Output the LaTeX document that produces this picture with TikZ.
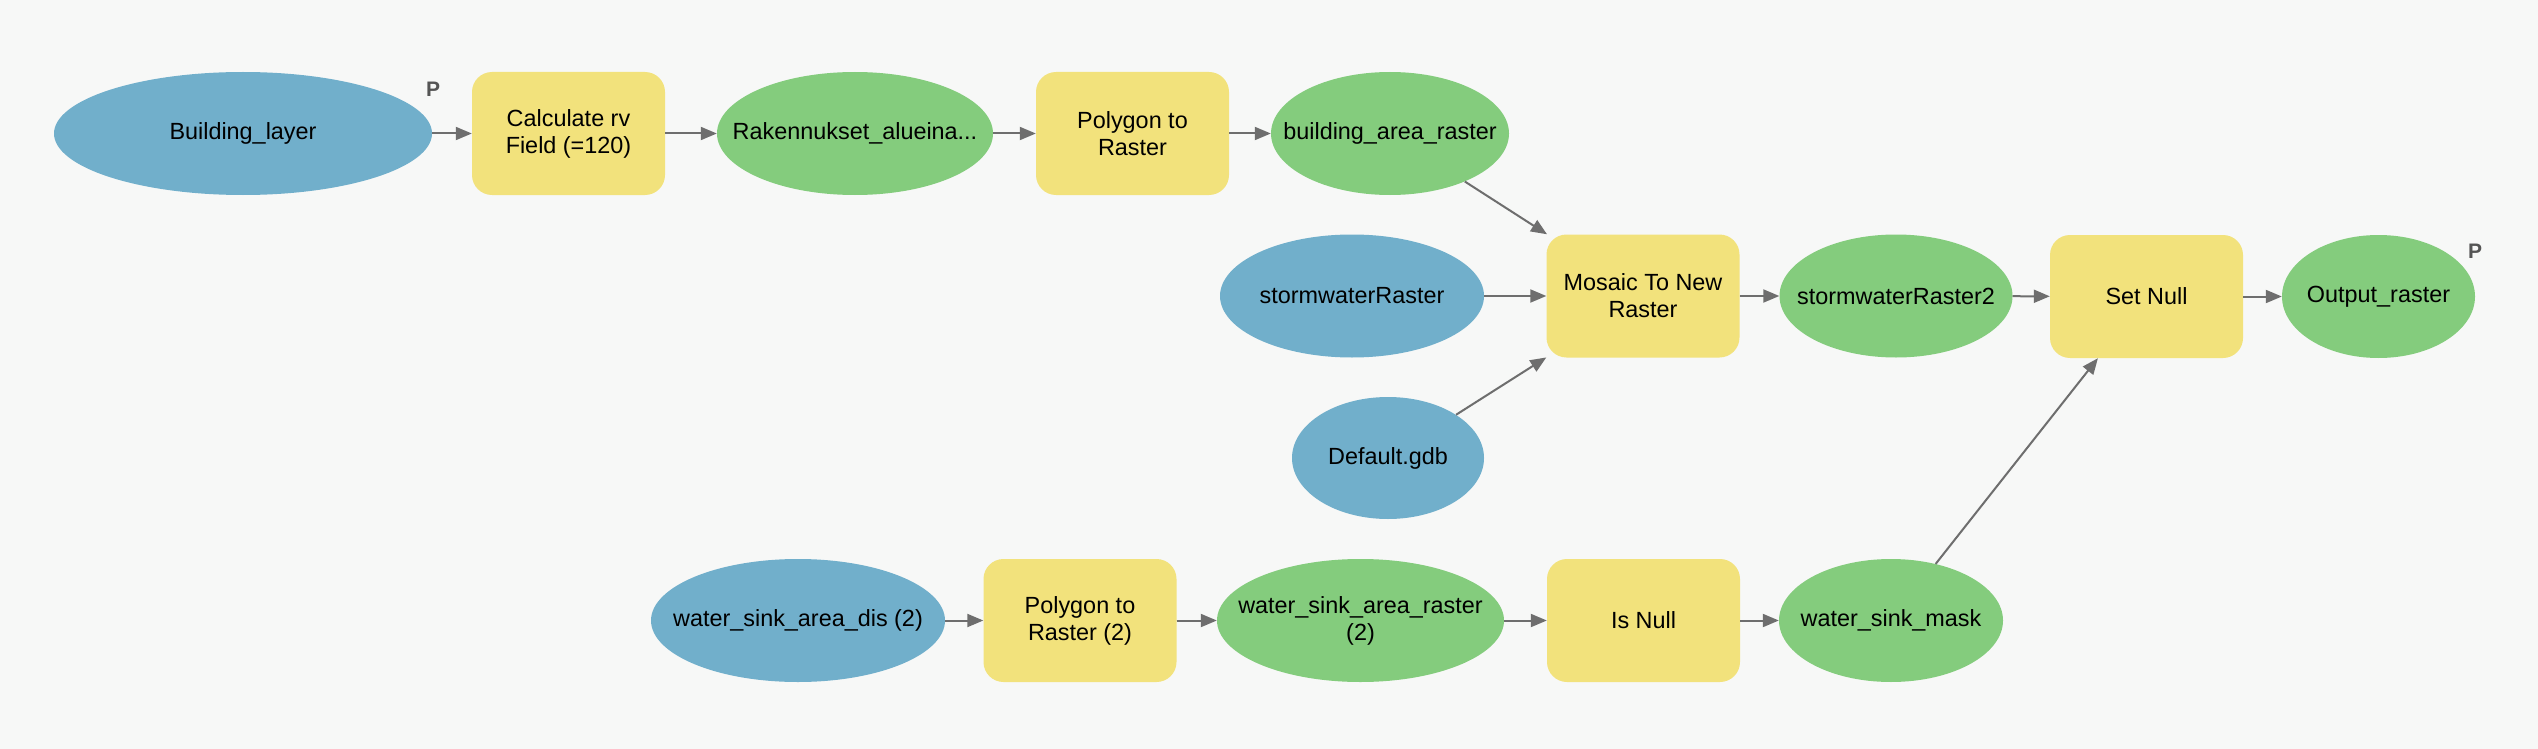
\documentclass[tikz,border=0pt]{standalone}
\usepackage{fontspec}
\setmainfont{Liberation Sans}
\usetikzlibrary{shapes.geometric,arrows.meta}
\definecolor{bgc}{HTML}{F7F8F7}
\definecolor{inblue}{HTML}{71AFCB}
\definecolor{outgreen}{HTML}{84CC7D}
\definecolor{toolyellow}{HTML}{F2E27C}
\definecolor{arrgray}{HTML}{6E6E6E}
\definecolor{pgray}{HTML}{555555}
\tikzset{
  datain/.style={ellipse, fill=inblue, draw=none, inner sep=0pt},
  dataout/.style={ellipse, fill=outgreen, draw=none, inner sep=0pt},
  toolbox/.style={rectangle, rounded corners=20pt, fill=toolyellow, draw=none, inner sep=0pt,
    minimum width=193pt, minimum height=123pt, align=center,
    font=\fontsize{23.4}{27}\selectfont},
  txt/.style={inner sep=0pt, align=center, font=\fontsize{23.4}{27}\selectfont},
  arr/.style={draw=arrgray, line width=2pt, -{Triangle[length=16pt,width=13pt]}, fill=arrgray},
  plabel/.style={inner sep=0pt, text=pgray, font=\fontsize{21}{24}\selectfont\bfseries}
}
\begin{document}
\begin{tikzpicture}[x=1pt,y=-1pt]
\useasboundingbox (0,0) rectangle (2538,749);
\fill[bgc] (0,0) rectangle (2538,749);

% row 1
\node[datain, minimum width=378pt, minimum height=123pt] (bl) at (243,133.5) {};
\node[txt] (blt) at (bl) {Building\_layer};
\node[toolbox] (calc) at (568.5,133.5) {Calculate rv\\Field (=120)};
\node[dataout, minimum width=276pt, minimum height=123pt] (rak) at (855,133.5) {};
\node[txt] (rakt) at (rak) {Rakennukset\_alueina...};
\node[toolbox] (p2r) at (1132.5,133.5) {Polygon to\\Raster};
\node[dataout, minimum width=238pt, minimum height=123pt] (bar) at (1390,133.5) {};
\node[txt] (bart) at (bar) {building\_area\_raster};

% row 2
\node[datain, minimum width=264pt, minimum height=123pt] (swr) at (1352,296) {};
\node[txt] (swrt) at (swr) {stormwaterRaster};
\node[toolbox] (mos) at (1643,296) {Mosaic To New\\Raster};
\node[dataout, minimum width=233pt, minimum height=123pt] (swr2) at (1896,296) {};
\node[txt] (swr2t) at (swr2) {stormwaterRaster2};
\node[toolbox] (setnull) at (2146.5,296.5) {Set Null};
\node[dataout, minimum width=193pt, minimum height=123pt] (out) at (2378.5,296.5) {};
\node[txt] (outt) at (out) {Output\_raster};

% default gdb
\node[datain, minimum width=192pt, minimum height=122pt] (gdb) at (1388,458) {};
\node[txt] (gdbt) at (gdb) {Default.gdb};

% row 3
\node[datain, minimum width=294pt, minimum height=123pt] (wsad) at (798,620.5) {};
\node[txt] (wsadt) at (wsad) {water\_sink\_area\_dis (2)};
\node[toolbox] (p2rb) at (1080,620.5) {Polygon to\\Raster (2)};
\node[dataout, minimum width=287pt, minimum height=123pt] (wsar) at (1360.5,620.5) {};
\node[txt] (wsart) at (wsar) {water\_sink\_area\_raster\\(2)};
\node[toolbox] (isnull) at (1643.5,620.5) {Is Null};
\node[dataout, minimum width=224pt, minimum height=123pt] (wsm) at (1891,620.5) {};
\node[txt] (wsmt) at (wsm) {water\_sink\_mask};

% P labels
\node[plabel] (p1) at (433,89) {P};
\node[plabel] (p2) at (2475,251) {P};

% connectors
\draw[arr] (bl) -- (calc);
\draw[arr] (calc) -- (rak);
\draw[arr] (rak) -- (p2r);
\draw[arr] (p2r) -- (bar);
\draw[arr] (bar) -- (mos);
\draw[arr] (swr) -- (mos);
\draw[arr] (gdb) -- (mos);
\draw[arr] (mos) -- (swr2);
\draw[arr] (swr2) -- (setnull);
\draw[arr] (setnull) -- (out);
\draw[arr] (wsad) -- (p2rb);
\draw[arr] (p2rb) -- (wsar);
\draw[arr] (wsar) -- (isnull);
\draw[arr] (isnull) -- (wsm);
\draw[arr] (wsm) -- (setnull);
\end{tikzpicture}
\end{document}
